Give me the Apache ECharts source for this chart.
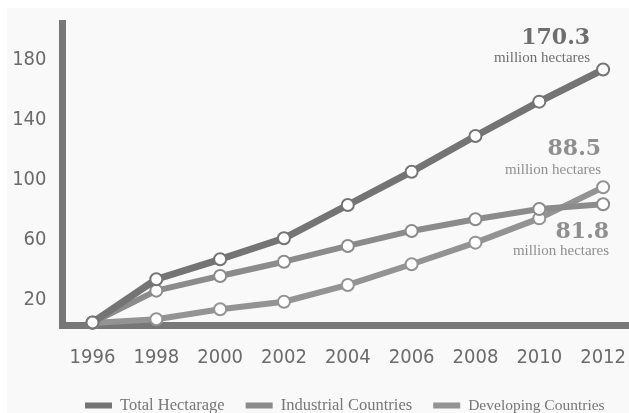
<!DOCTYPE html>
<html>
<head>
<meta charset="utf-8">
<script src="https://cdn.jsdelivr.net/npm/echarts@6/dist/echarts.min.js"></script>
<style>
  html, body { margin: 0; padding: 0; background: #fff; }
  #bg { position: absolute; left: 7px; top: 8px; right: 0; bottom: 0; background: #f9f9f9; }
  #chart { position: absolute; left: 0; top: 0; width: 629px; height: 413px; }
</style>
</head>
<body>
<div id="bg"></div>
<div id="chart"></div>
<script>
// data (million hectares)
const years = [1996, 1998, 2000, 2002, 2004, 2006, 2008, 2010, 2012];
const totalHa = [1.7, 30.5, 43.8, 57.8, 80.0, 102.2, 126.0, 148.9, 170.3];
const industrialHa = [1.6, 22.9, 32.7, 42.2, 52.7, 62.7, 70.5, 77.3, 80.5];
const developingHa = [1.4, 3.8, 10.5, 15.5, 26.7, 40.5, 54.9, 71.1, 91.8];
const yTicks = [20, 60, 100, 140, 180];
const seriesNames = ['Total Hectarage', 'Industrial Countries', 'Developing Countries'];
const endNotes = ['170.3', '81.8', '88.5'];

const narrow = '"DejaVu Sans Condensed", "DejaVu Sans", sans-serif';
const serif = '"Liberation Serif", "DejaVu Serif", serif';

// label on the last point: big number + "million hectares"
function endLabel(note, color, pos, lh) {
    return {
        show: true,
        position: pos,
        align: 'right',
        verticalAlign: 'top',
        formatter: '{a|' + note + '}\n{b|million hectares}',
        rich: {
            a: { fontFamily: '"DejaVu Serif", serif', fontWeight: 'bold', fontSize: 22, lineHeight: lh, color: color, align: 'right' },
            b: { fontFamily: serif, fontSize: 15, lineHeight: 17, color: color, align: 'right' }
        }
    };
}

function buildData(values, label) {
    return values.map((v, i) => {
        const item = { value: [years[i], v] };
        if (i === values.length - 1) item.label = label;
        return item;
    });
}

function lineSeries(name, values, color, width, z, label) {
    return {
        name: name,
        type: 'line',
        z: z,
        symbol: 'emptyCircle',
        symbolSize: 12,
        lineStyle: { color: color, width: width },
        itemStyle: { color: color, borderWidth: 2 },
        emphasis: { disabled: true },
        data: buildData(values, label)
    };
}

const chart = echarts.init(document.getElementById('chart'), null, { renderer: 'canvas' });
chart.setOption({
    animation: false,
    backgroundColor: 'transparent',
    grid: { left: 62.5, right: 0, top: 23.5, bottom: 88 },
    xAxis: {
        type: 'value',
        min: 1995.06,
        max: 2012.71,
        axisLine: { lineStyle: { color: '#777', width: 7, cap: 'square' } },
        axisTick: { show: false },
        splitLine: { show: false },
        axisLabel: {
            customValues: years,
            margin: 23,
            color: '#6b6b6b',
            fontFamily: narrow,
            fontSize: 20,
            formatter: v => String(v)
        }
    },
    yAxis: {
        type: 'value',
        min: 0,
        max: 201,
        axisLine: { show: true, lineStyle: { color: '#777', width: 7, cap: 'square' } },
        axisTick: { show: false },
        splitLine: { show: false },
        axisLabel: {
            customValues: yTicks,
            margin: 16,
            color: '#6b6b6b',
            fontFamily: narrow,
            fontSize: 20,
            verticalAlign: 'top',
            lineHeight: 10
        }
    },
    legend: {
        data: [
            { name: seriesNames[0] },
            { name: seriesNames[1] },
            { name: seriesNames[2], textStyle: { fontSize: 15.5 } }
        ],
        left: 85,
        top: 397,
        padding: 0,
        icon: 'rect',
        itemWidth: 27,
        itemHeight: 6,
        itemGap: 21,
        textStyle: { fontFamily: serif, fontSize: 16.5, color: '#777', padding: [0, 0, 6, 3] }
    },
    series: [
        lineSeries(seriesNames[2], developingHa, '#939393', 6, 2,
            endLabel(endNotes[2], '#8f8f8f', [5, -43], 24)),
        lineSeries(seriesNames[1], industrialHa, '#8b8b8b', 6, 3,
            endLabel(endNotes[1], '#8f8f8f', [13, 25], 20)),
        lineSeries(seriesNames[0], totalHa, '#747474', 7, 4,
            endLabel(endNotes[0], '#6e6e6e', [-6, -36.5], 24))
    ]
});
</script>
</body>
</html>
